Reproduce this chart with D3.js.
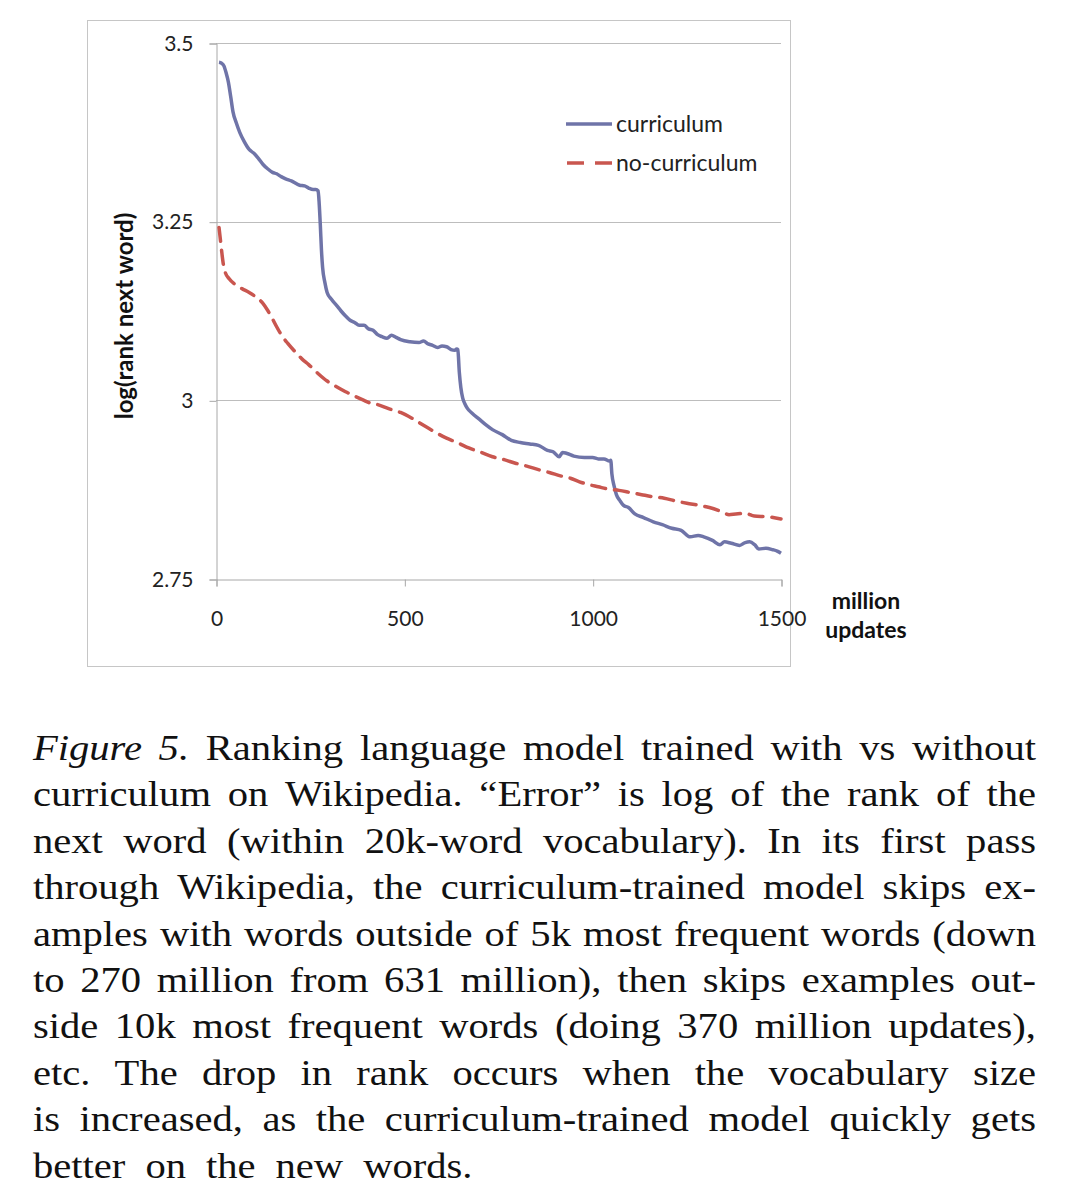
<!DOCTYPE html>
<html>
<head>
<meta charset="utf-8">
<script src="https://cdn.jsdelivr.net/npm/d3@7"></script>
<style>
  body { margin: 0; background: #fff; }
  svg { display: block; }
</style>
</head>
<body>
<svg width="1068" height="1194"></svg>
<script>
// Data (x = million updates, y = log rank of next word)
const curriculumX = [8, 14, 21, 27, 33, 39, 45, 54, 63, 75, 88, 100, 112, 125, 137, 150, 161, 173, 185, 200, 222, 235, 246, 258, 265, 271, 274, 277, 280, 283, 289, 295, 307, 320, 332, 344, 356, 368, 380, 393, 405, 417, 429, 441, 454, 466, 478, 490, 515, 539, 551, 563, 575, 588, 600, 612, 624, 634, 639, 642, 646, 650, 655, 661, 667, 680, 698, 716, 734, 760, 784, 808, 833, 856, 880, 895, 911, 920, 930, 950, 978, 1000, 1015, 1030, 1045, 1048, 1051, 1057, 1063, 1072, 1082, 1095, 1112, 1135, 1161, 1185, 1210, 1235, 1259, 1280, 1295, 1318, 1338, 1350, 1368, 1390, 1405, 1417, 1430, 1441, 1460, 1478, 1490, 1500];
const curriculumY = [3.473, 3.472, 3.468, 3.458, 3.445, 3.425, 3.404, 3.388, 3.375, 3.362, 3.351, 3.346, 3.339, 3.330, 3.324, 3.319, 3.317, 3.313, 3.310, 3.307, 3.301, 3.300, 3.297, 3.295, 3.295, 3.293, 3.275, 3.245, 3.210, 3.186, 3.165, 3.151, 3.141, 3.133, 3.125, 3.118, 3.112, 3.109, 3.105, 3.105, 3.100, 3.098, 3.092, 3.089, 3.087, 3.091, 3.088, 3.085, 3.082, 3.081, 3.083, 3.079, 3.077, 3.074, 3.076, 3.075, 3.071, 3.070, 3.072, 3.071, 3.039, 3.018, 3.003, 2.995, 2.989, 2.982, 2.974, 2.966, 2.959, 2.952, 2.944, 2.941, 2.939, 2.937, 2.930, 2.928, 2.921, 2.927, 2.926, 2.922, 2.920, 2.920, 2.918, 2.918, 2.915, 2.916, 2.897, 2.880, 2.868, 2.860, 2.853, 2.850, 2.841, 2.836, 2.830, 2.826, 2.821, 2.818, 2.809, 2.811, 2.809, 2.804, 2.798, 2.802, 2.800, 2.797, 2.801, 2.802, 2.798, 2.792, 2.793, 2.791, 2.789, 2.786];

const noCurriculumX = [8, 11, 15, 19, 24, 35, 51, 70, 88, 105, 124, 137, 149, 161, 173, 190, 210, 228, 246, 270, 295, 320, 344, 368, 393, 410, 429, 460, 490, 520, 551, 580, 612, 640, 673, 700, 734, 765, 795, 825, 856, 885, 917, 941, 965, 990, 1015, 1039, 1070, 1100, 1130, 1161, 1190, 1222, 1250, 1283, 1310, 1344, 1362, 1380, 1405, 1429, 1465, 1500];
const noCurriculumY = [3.242, 3.228, 3.209, 3.192, 3.180, 3.170, 3.162, 3.156, 3.151, 3.145, 3.136, 3.126, 3.115, 3.103, 3.092, 3.080, 3.068, 3.058, 3.050, 3.038, 3.027, 3.019, 3.012, 3.006, 3.000, 2.996, 2.994, 2.988, 2.983, 2.975, 2.965, 2.956, 2.947, 2.941, 2.933, 2.928, 2.921, 2.917, 2.912, 2.908, 2.903, 2.899, 2.894, 2.891, 2.886, 2.882, 2.879, 2.876, 2.874, 2.871, 2.868, 2.865, 2.863, 2.859, 2.856, 2.853, 2.850, 2.844, 2.840, 2.841, 2.842, 2.838, 2.837, 2.834];

const yTicks = [2.75, 3, 3.25, 3.5];
const yTickLabels = ["2.75", "3", "3.25", "3.5"];
const xTicks = [0, 500, 1000, 1500];
const seriesNames = ["curriculum", "no-curriculum"];

const captionLines = [
  "Figure 5. Ranking language model trained with vs without",
  "curriculum on Wikipedia. \u201cError\u201d is log of the rank of the",
  "next word (within 20k-word vocabulary). In its first pass",
  "through Wikipedia, the curriculum-trained model skips ex-",
  "amples with words outside of 5k most frequent words (down",
  "to 270 million from 631 million), then skips examples out-",
  "side 10k most frequent words (doing 370 million updates),",
  "etc. The drop in rank occurs when the vocabulary size",
  "is increased, as the curriculum-trained model quickly gets",
  "better on the new words."
];

const svg = d3.select("svg");
const chartFont = "Lato, 'Open Sans', sans-serif";

// outer frame of the chart
svg.append("rect")
  .attr("x", 87.5).attr("y", 20.5)
  .attr("width", 703).attr("height", 646)
  .attr("fill", "none").attr("stroke", "#c6c6c6").attr("stroke-width", 1);

const x = d3.scaleLinear().domain([0, 1500]).range([216, 781]);
const y = d3.scaleLinear().domain([2.75, 3.5]).range([579, 43]);

// gridlines
svg.append("g")
  .selectAll("line")
  .data(yTicks.filter(d => d > 2.75))
  .join("line")
  .attr("x1", x(0)).attr("x2", x(1500))
  .attr("y1", d => Math.round(y(d)) + 0.5).attr("y2", d => Math.round(y(d)) + 0.5)
  .attr("stroke", "#bdbdbd").attr("stroke-width", 1);

// y axis
const yAxis = svg.append("g")
  .attr("transform", `translate(${x(0) + 0.5},0.5)`)
  .call(d3.axisLeft(y).tickValues(yTicks).tickFormat((d, i) => yTickLabels[i]).tickSize(7).tickPadding(16));
yAxis.select(".domain").attr("stroke", "#a8a8a8");
yAxis.selectAll(".tick line").attr("stroke", "#a8a8a8");
yAxis.selectAll(".tick text")
  .attr("font-family", chartFont).attr("font-size", 21).attr("fill", "#222");

// x axis
const xAxis = svg.append("g")
  .attr("transform", `translate(0.5,${y(2.75) + 0.5})`)
  .call(d3.axisBottom(x).tickValues(xTicks).tickFormat(d3.format("d")).tickSize(7).tickPadding(25));
xAxis.select(".domain").attr("stroke", "#a8a8a8");
xAxis.selectAll(".tick line").attr("stroke", "#a8a8a8");
xAxis.selectAll(".tick text")
  .attr("font-family", chartFont).attr("font-size", 21).attr("fill", "#222");

// axis titles
svg.append("text")
  .attr("transform", `translate(133,316) rotate(-90)`)
  .attr("text-anchor", "middle")
  .attr("font-family", chartFont).attr("font-weight", "bold").attr("font-size", 24)
  .attr("fill", "#111")
  .text("log(rank next word)");

svg.append("text")
  .attr("x", 866).attr("y", 609)
  .attr("text-anchor", "middle")
  .attr("font-family", chartFont).attr("font-weight", "bold").attr("font-size", 23)
  .attr("fill", "#111")
  .text("million");
svg.append("text")
  .attr("x", 866).attr("y", 638)
  .attr("text-anchor", "middle")
  .attr("font-family", chartFont).attr("font-weight", "bold").attr("font-size", 23)
  .attr("fill", "#111")
  .text("updates");

// lines
const line = d3.line().x(d => x(d[0])).y(d => y(d[1])).curve(d3.curveMonotoneX);
const curData = curriculumX.map((d, i) => [d, curriculumY[i]]);
const noData = noCurriculumX.map((d, i) => [d, noCurriculumY[i]]);

svg.append("path")
  .datum(curData)
  .attr("d", line)
  .attr("fill", "none").attr("stroke", "#6f74a8").attr("stroke-width", 3.5)
  .attr("stroke-linejoin", "round");

svg.append("path")
  .datum(noData)
  .attr("d", line)
  .attr("fill", "none").attr("stroke", "#c9564f").attr("stroke-width", 3.5)
  .attr("stroke-dasharray", "14,9").attr("stroke-linecap", "round");

// legend
const legend = svg.append("g");
legend.append("line")
  .attr("x1", 566).attr("x2", 612).attr("y1", 124).attr("y2", 124)
  .attr("stroke", "#6f74a8").attr("stroke-width", 3.5);
legend.append("line")
  .attr("x1", 567).attr("x2", 612).attr("y1", 163).attr("y2", 163)
  .attr("stroke", "#c9564f").attr("stroke-width", 3.5)
  .attr("stroke-dasharray", "17,11");
legend.selectAll("text")
  .data(seriesNames)
  .join("text")
  .attr("x", 616).attr("y", (d, i) => 132 + i * 39)
  .attr("font-family", chartFont).attr("font-size", 23).attr("fill", "#222")
  .text(d => d);

// caption: glyphs stretched a little horizontally, lines justified word by word
const capFont = "'Liberation Serif', 'DejaVu Serif', serif";
const capLeft = 33, capRight = 1036, capSize = 35;
const minGap = 12;
const cap = svg.append("g").attr("font-family", capFont).attr("font-size", capSize).attr("fill", "#111");

// measure each line's words first
const measured = captionLines.map((ln, li) => {
  return ln.split(" ").map((w, wi) => {
    const italic = li === 0 && wi < 2;
    const t = cap.append("text").attr("font-style", italic ? "italic" : "normal").text(w);
    return { node: t, w: t.node().getComputedTextLength() };
  });
});
// widest stretch that still leaves minGap between words on every justified line
const sx = Math.min(1.2, d3.min(measured.slice(0, -1), pieces =>
  (capRight - capLeft - minGap * (pieces.length - 1)) / d3.sum(pieces, p => p.w)));

measured.forEach((pieces, li) => {
  const baseY = 760 + li * 46.4;
  const last = li === measured.length - 1;
  const total = d3.sum(pieces, p => p.w) * sx;
  const gap = last ? 20 : (capRight - capLeft - total) / (pieces.length - 1);
  let cx = capLeft;
  pieces.forEach(p => {
    p.node.attr("transform", `translate(${cx},${baseY}) scale(${sx},1)`);
    cx += p.w * sx + gap;
  });
});
</script>
</body>
</html>
